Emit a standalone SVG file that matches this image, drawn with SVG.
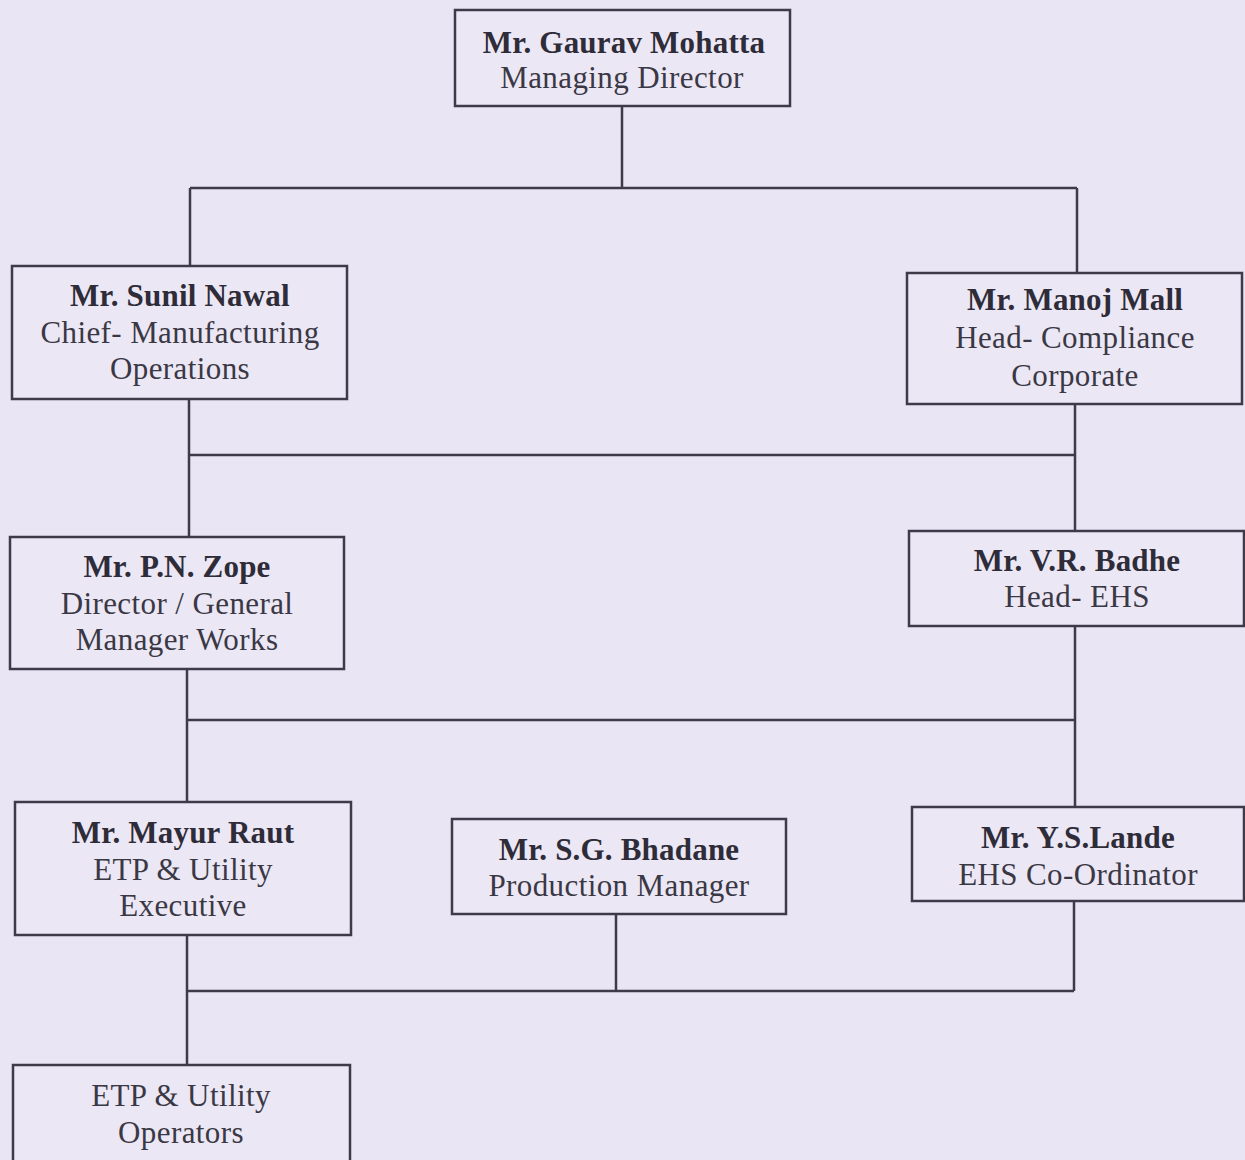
<svg xmlns="http://www.w3.org/2000/svg" width="1245" height="1160" viewBox="0 0 1245 1160">
<style>
.box{fill:#ebe7f5;stroke:#3d3b4a;stroke-width:2.5}
.ln{stroke:#3d3b4a;stroke-width:2.5;fill:none}
text{font-family:"Liberation Serif","Times New Roman",serif;font-size:31px;letter-spacing:0.4px;fill:#3a3844;text-anchor:middle}
.b{font-weight:bold;fill:#2e2c38;letter-spacing:0.2px}
</style>
<rect width="1245" height="1160" fill="#e9e5f4"/>
<g id="connectors">
<path class="ln" d="M622 106V188M190 188H1077M190 188V267M1077 188V273"/>
<path class="ln" d="M189 399V537M1075 404V532M189 455H1075"/>
<path class="ln" d="M187 669V802M1075 626V807M187 720H1075"/>
<path class="ln" d="M187 935V1065M616 914V991M1074 901V991M187 991H1074"/>
</g>
<g id="md"><rect class="box" x="455" y="10" width="335" height="96"/><text class="b" x="624" y="53">Mr. Gaurav Mohatta</text><text x="622" y="88">Managing Director</text></g>
<g id="sunil"><rect class="box" x="12" y="266" width="335" height="133"/><text class="b" x="180" y="306">Mr. Sunil Nawal</text><text x="180" y="343">Chief- Manufacturing</text><text x="180" y="379">Operations</text></g>
<g id="manoj"><rect class="box" x="907" y="273" width="335" height="131"/><text class="b" x="1075" y="310">Mr. Manoj Mall</text><text x="1075" y="348">Head- Compliance</text><text x="1075" y="386">Corporate</text></g>
<g id="zope"><rect class="box" x="10" y="537" width="334" height="132"/><text class="b" x="177" y="577">Mr. P.N. Zope</text><text x="177" y="614">Director / General</text><text x="177" y="650">Manager Works</text></g>
<g id="badhe"><rect class="box" x="909" y="531" width="335" height="95"/><text class="b" x="1077" y="571">Mr. V.R. Badhe</text><text x="1077" y="607">Head- EHS</text></g>
<g id="mayur"><rect class="box" x="15" y="802" width="336" height="133"/><text class="b" x="183" y="843">Mr. Mayur Raut</text><text x="183" y="880">ETP &amp; Utility</text><text x="183" y="916">Executive</text></g>
<g id="bhadane"><rect class="box" x="452" y="819" width="334" height="95"/><text class="b" x="619" y="860">Mr. S.G. Bhadane</text><text x="619" y="896">Production Manager</text></g>
<g id="lande"><rect class="box" x="912" y="807" width="332" height="94"/><text class="b" x="1078" y="848">Mr. Y.S.Lande</text><text x="1078" y="885">EHS Co-Ordinator</text></g>
<g id="operators"><rect class="box" x="13" y="1065" width="337" height="110"/><text x="181" y="1106">ETP &amp; Utility</text><text x="181" y="1143">Operators</text></g>
</svg>
